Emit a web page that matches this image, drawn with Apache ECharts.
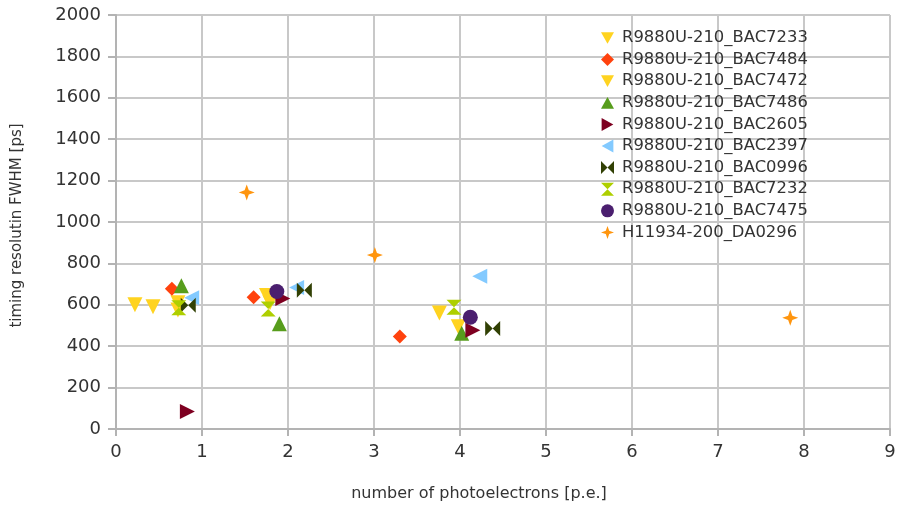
<!DOCTYPE html>
<html><head><meta charset="utf-8">
<script src="https://cdn.jsdelivr.net/npm/echarts@6/dist/echarts.min.js"></script>
<style>html,body{margin:0;padding:0;background:#fff}#c{width:898px;height:506px}</style>
</head><body><div id="c"></div>
<script>
const seriesNames = ["R9880U-210_BAC7233","R9880U-210_BAC7484","R9880U-210_BAC7472","R9880U-210_BAC7486","R9880U-210_BAC2605","R9880U-210_BAC2397","R9880U-210_BAC0996","R9880U-210_BAC7232","R9880U-210_BAC7475","H11934-200_DA0296"];
const xTicks = [0,1,2,3,4,5,6,7,8,9];
const yTicks = [0,200,400,600,800,1000,1200,1400,1600,1800,2000];
const bac7233 = [[0.22,600],[0.43,590],[0.72,610],[1.75,645],[3.76,560]];
const bac7484 = [[0.65,678],[1.60,636],[3.30,447]];
const bac7472 = [[0.72,575],[1.79,610],[3.98,494]];
const bac7486 = [[0.76,692],[1.90,508],[4.02,462]];
const bac2605 = [[0.83,85],[1.94,630],[4.15,477]];
const bac2397 = [[0.88,634],[2.10,683],[4.23,738]];
const bac0996 = [[0.84,598],[2.19,670],[4.38,486]];
const bac7232 = [[0.73,586],[1.77,580],[3.93,588]];
const bac7475 = [[1.87,664],[4.12,540]];
const da0296 = [[1.52,1143],[3.01,840],[7.84,537]];
const allData = [bac7233,bac7484,bac7472,bac7486,bac2605,bac2397,bac0996,bac7232,bac7475,da0296];
const colors = ["#ffd320","#ff420e","#ffd320","#579d1c","#7e0021","#83caff","#314004","#aecf00","#4b1f6f","#ff950e"];
const symbols = [
  'path://M0,0 L10,0 L5,9 Z',
  'diamond',
  'path://M0,0 L10,0 L5,9 Z',
  'path://M5,0 L10,9 L0,9 Z',
  'path://M0,0 L9,5 L0,10 Z',
  'path://M9,0 L0,5 L9,10 Z',
  'path://M0,0 L5,5 L0,10 Z M10,0 L5,5 L10,10 Z',
  'path://M0,0 L10,0 L5,5 Z M0,10 L10,10 L5,5 Z',
  'circle',
  'path://M5,0 L6.3,3.7 L10,5 L6.3,6.3 L5,10 L3.7,6.3 L0,5 L3.7,3.7 Z'
];
const sizes = [15,14,15,15,15,15,15,15,15,16];
const chart = echarts.init(document.getElementById('c'));
const font = "'DejaVu Sans', sans-serif";
chart.setOption({
  animation:false,
  textStyle:{fontFamily:font},
  grid:{left:116,right:8,top:15,bottom:77,containLabel:false,outerBoundsMode:'none'},
  xAxis:{type:'value',min:xTicks[0],max:xTicks[xTicks.length-1],interval:1,
    name:'number of photoelectrons [p.e.]',nameLocation:'middle',nameGap:57,
    nameTextStyle:{fontSize:16,color:'#333',fontFamily:font,padding:[0,48,0,0]},
    axisLine:{show:true,lineStyle:{color:'#b3b3b3',width:2}},
    axisTick:{show:true,length:7,lineStyle:{color:'#b3b3b3',width:2}},
    axisLabel:{fontSize:18,color:'#333',margin:14,fontFamily:font,formatter:v=>String(v)},
    splitLine:{show:true,lineStyle:{color:'#c8c8c8',width:2}}},
  yAxis:{type:'value',min:yTicks[0],max:yTicks[yTicks.length-1],interval:200,
    name:'timing resolutin FWHM [ps]',nameLocation:'middle',nameGap:91,
    nameTextStyle:{fontSize:15,color:'#333',fontFamily:font,padding:[0,7,0,0]},
    axisLine:{show:true,lineStyle:{color:'#b3b3b3',width:2}},
    axisTick:{show:true,length:8,lineStyle:{color:'#b3b3b3',width:2}},
    axisLabel:{fontSize:18,color:'#333',margin:15,fontFamily:font,formatter:v=>String(v)},
    splitLine:{show:true,lineStyle:{color:'#c8c8c8',width:2}}},
  legend:{orient:'vertical',left:596,top:25,itemWidth:13,itemHeight:13,itemGap:5.6,
    textStyle:{fontSize:16.4,color:'#333',fontFamily:font,padding:[0,0,0,3]},
    data:seriesNames.map((n,i)=>({name:n,icon:symbols[i],itemStyle:{color:colors[i]}}))},
  series:seriesNames.map((n,i)=>({name:n,type:'scatter',data:allData[i],
    symbol:symbols[i],symbolSize:sizes[i],itemStyle:{color:colors[i],opacity:1}}))
});
</script></body></html>
